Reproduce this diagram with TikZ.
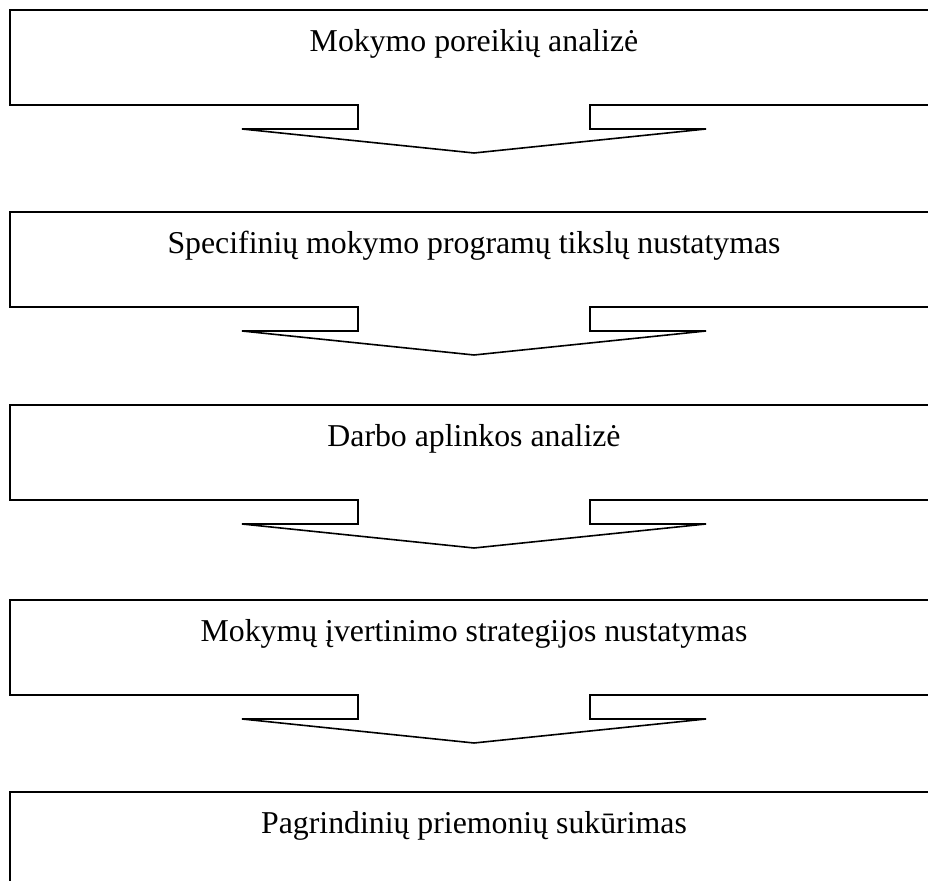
\documentclass[tikz,border=0pt]{standalone}
\usepackage{fontspec}
\setmainfont{Liberation Serif}
\usetikzlibrary{calc}

\tikzset{
	stepbox/.style={draw, line width=0.8pt, fill=white, anchor=north, outer sep=0pt,
		minimum width=464pt, inner sep=0pt, text height=21pt, text depth=26.5pt,
		font=\fontsize{15.9}{19}\selectfont},
	blockarrow/.style={draw, line width=0.8pt, line join=miter}
}

\begin{document}
\begin{tikzpicture}[x=0.5pt, y=-0.5pt]
	\def\shaftHalf{58pt} % half width of the arrow shaft
	\def\wingHalf{58pt} % how far the head sticks out past the shaft
	\def\armLen{12pt} % length of shaft and of head
	
	% Page frame
	\clip (0,0) rectangle (928,881);
	
	% The five steps
	\node[stepbox] (box1) at (474,10) {Mokymo poreikių analizė};
	\node[stepbox] (box2) at (474,212) {Specifinių mokymo programų tikslų nustatymas};
	\node[stepbox] (box3) at (474,405) {Darbo aplinkos analizė};
	\node[stepbox] (box4) at (474,600) {Mokymų įvertinimo strategijos nustatymas};
	\node[stepbox] (box5) at (474,792) {Pagrindinių priemonių sukūrimas};
	
	% Block arrows hanging under each box
	\foreach \i in {1, 2, 3, 4} {
		\coordinate (tip\i) at ($(box\i.south)+(0,-2*\armLen)$);
		\fill[white] ($(box\i.south)+(-\shaftHalf+0.4pt,1pt)$) rectangle ($(box\i.south)+(\shaftHalf-0.4pt,-1pt)$);
		\draw[blockarrow] ($(box\i.south)+(-\shaftHalf,0)$) -- ++(0,-\armLen) -- ++(-\wingHalf,0)
			-- (tip\i) -- ($(box\i.south)+(\shaftHalf+\wingHalf,-\armLen)$) -- ++(-\wingHalf,0) -- ++(0,\armLen);
	}
\end{tikzpicture}
\end{document}
